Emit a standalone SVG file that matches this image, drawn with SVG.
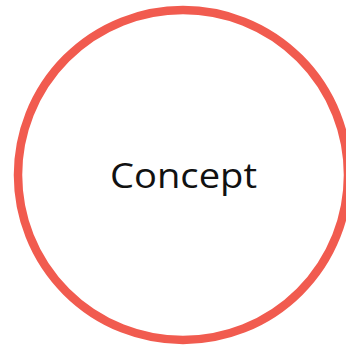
<svg xmlns="http://www.w3.org/2000/svg" width="346" height="345" viewBox="0 0 346 345">
<style>
.ring{fill:#ffffff;stroke:#F15B4F;stroke-width:8.5}
.lbl{font-family:"Open Sans","Liberation Sans",sans-serif;font-size:35px;fill:#111111;text-anchor:middle}
</style>
<rect width="346" height="345" fill="#ffffff"/>
<g id="concept">
<circle class="ring" cx="183" cy="175" r="165"/>
<text class="lbl" x="183.5" y="188" textLength="147" lengthAdjust="spacingAndGlyphs">Concept</text>
</g>
</svg>
